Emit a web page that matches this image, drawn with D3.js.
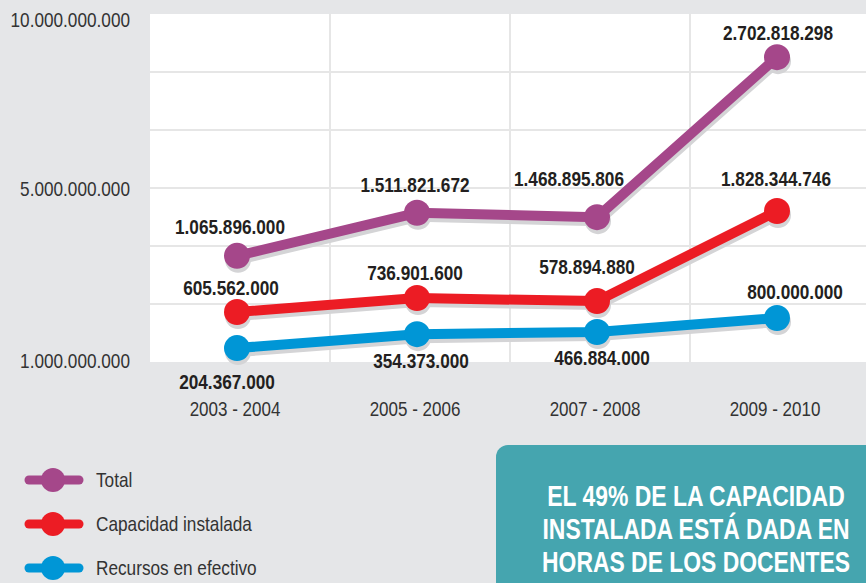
<!DOCTYPE html>
<html>
<head>
<meta charset="utf-8">
<script src="https://cdn.jsdelivr.net/npm/d3@7"></script>
<style>
  html, body { margin: 0; padding: 0; background: #e5e6e8; }
  svg { display: block; }
</style>
</head>
<body>
<div id="chart"></div>
<script>
// categories (school years)
var years = ["2003 - 2004", "2005 - 2006", "2007 - 2008", "2009 - 2010"]
// values printed on the chart
var totalValues = [1065896000, 1511821672, 1468895806, 2702818298]
var capacidadValues = [605562000, 736901600, 578894880, 1828344746]
var recursosValues = [204367000, 354373000, 466884000, 800000000]
// the infographic does not place points to scale, so these are the
// positions (1.000.000.000 / 5.000.000.000 / 10.000.000.000)
var totalPos = [3.44e9, 4.43e9, 4.33e9, 8.76e9]
var capacidadPos = [2.15e9, 2.47e9, 2.40e9, 4.47e9]
var recursosPos = [1.32e9, 1.64e9, 1.69e9, 2.01e9]
// axis ticks
var yTicks = [1e9, 5e9, 1e10]
var seriesNames = ["Total", "Capacidad instalada", "Recursos en efectivo"]
var noteLines = ["EL 49% DE LA CAPACIDAD", "INSTALADA ESTÁ DADA EN", "HORAS DE LOS DOCENTES"]

var colors = ["#a5478a", "#ec1c24", "#0096d6"]

var W = 866, H = 583
var plot = {left: 150, right: 870, top: 14, bottom: 362}
var FONT = "'Liberation Sans', Arial, sans-serif"

var locale = d3.formatLocale({decimal: ",", thousands: ".", grouping: [3], currency: ["$", ""]})
var fmt = locale.format(",.0f")

// no condensed face installed, so squeeze text horizontally
function squeeze(sel, sx){
  sel.each(function(){
    var t = d3.select(this)
    var x0 = +t.attr("x") || 0, y0 = +t.attr("y") || 0
    t.attr("x", 0).attr("y", 0)
      .attr("transform", "translate(" + x0 + "," + y0 + ") scale(" + sx + ",1)")
  })
}

var svg = d3.select("#chart").append("svg")
  .attr("width", W).attr("height", H)

svg.append("rect").attr("width", W).attr("height", H).attr("fill", "#e5e6e8")

// plot background
svg.append("rect")
  .attr("x", plot.left).attr("y", plot.top)
  .attr("width", plot.right - plot.left).attr("height", plot.bottom - plot.top)
  .attr("fill", "#ffffff")

var x = d3.scaleBand().domain(years).range([plot.left, plot.right]).padding(0)
var y = d3.scaleLinear().domain(yTicks).range([plot.bottom, (plot.top + plot.bottom) / 2, plot.top])

// grid
var grid = svg.append("g")
d3.range(1, 6).forEach(function(i){
  var gy = plot.top + i * (plot.bottom - plot.top) / 6
  grid.append("line").attr("x1", plot.left).attr("x2", plot.right)
    .attr("y1", gy).attr("y2", gy)
    .attr("stroke", "#e6e6e6").attr("stroke-width", 2)
})
years.slice(1).forEach(function(c){
  grid.append("line").attr("x1", x(c)).attr("x2", x(c))
    .attr("y1", plot.top).attr("y2", plot.bottom)
    .attr("stroke", "#e6e6e6").attr("stroke-width", 2)
})

// y axis
var yAxis = svg.append("g")
  .attr("transform", "translate(" + (plot.left - 20) + ",0)")
  .call(d3.axisLeft(y).tickValues(yTicks).tickSize(0).tickPadding(0).tickFormat(fmt))
yAxis.select(".domain").remove()
yAxis.selectAll("text")
  .attr("font-family", FONT)
  .attr("font-size", 20).attr("fill", "#333")
  .attr("dy", function(d){ return d === 1e10 ? "0.6em" : d === 1e9 ? "0.25em" : "0.35em" })
  .call(squeeze, 0.86)

// x axis
var xAxis = svg.append("g")
  .attr("transform", "translate(0," + plot.bottom + ")")
  .call(d3.axisBottom(x).tickSize(0).tickPadding(0))
xAxis.select(".domain").remove()
xAxis.selectAll("text")
  .attr("font-family", FONT)
  .attr("font-size", 21).attr("fill", "#333")
  .attr("y", 47).attr("dy", "0.35em").attr("x", -5)
  .call(squeeze, 0.81)

// series
var series = [
  {name: seriesNames[0], pos: totalPos, values: totalValues, color: colors[0],
   off: [[-7, -29], [-2, -28], [-28, -39], [1, -25]]},
  {name: seriesNames[1], pos: capacidadPos, values: capacidadValues, color: colors[1],
   off: [[-6, -24], [-2, -25], [-10, -34], [-1, -32]]},
  {name: seriesNames[2], pos: recursosPos, values: recursosValues, color: colors[2],
   off: [[-10, 34], [4, 26], [5, 26], [18, -26]]}
]

var px = function(i){ return x(years[i]) + x.bandwidth() / 2 - 3 }

var line = d3.line()
  .x(function(d, i){ return px(i) })
  .y(function(d){ return y(d) })

series.forEach(function(s){
  var g = svg.append("g")
  // soft shadow
  g.append("path").datum(s.pos).attr("d", line)
    .attr("transform", "translate(1,4)")
    .attr("fill", "none").attr("stroke", "#d4d4d6").attr("stroke-width", 10)
    .attr("stroke-linejoin", "round")
  g.selectAll(".shadow").data(s.pos).enter().append("circle")
    .attr("cx", function(d, i){ return px(i) + 1 })
    .attr("cy", function(d){ return y(d) + 4 })
    .attr("r", 13).attr("fill", "#d4d4d6")
  g.append("path").datum(s.pos).attr("d", line)
    .attr("fill", "none").attr("stroke", s.color).attr("stroke-width", 10)
    .attr("stroke-linejoin", "round")
  g.selectAll(".dot").data(s.pos).enter().append("circle")
    .attr("cx", function(d, i){ return px(i) })
    .attr("cy", function(d){ return y(d) })
    .attr("r", 13).attr("fill", s.color)
})

// value labels
series.forEach(function(s){
  svg.append("g").selectAll("text").data(s.values).enter().append("text")
    .attr("x", function(d, i){ return px(i) + s.off[i][0] })
    .attr("y", function(d, i){ return y(s.pos[i]) + s.off[i][1] })
    .attr("dy", "0.35em")
    .attr("text-anchor", "middle")
    .attr("font-family", FONT)
    .attr("font-weight", "bold").attr("font-size", 21).attr("fill", "#231f20")
    .text(function(d){ return fmt(d) })
    .call(squeeze, 0.82)
})

// legend
var legend = svg.append("g")
series.forEach(function(s, i){
  var ly = 480 + i * 44
  legend.append("line").attr("x1", 29).attr("x2", 79).attr("y1", ly).attr("y2", ly)
    .attr("stroke", s.color).attr("stroke-width", 9).attr("stroke-linecap", "round")
  legend.append("circle").attr("cx", 53).attr("cy", ly).attr("r", 12).attr("fill", s.color)
  legend.append("text").attr("x", 96).attr("y", ly).attr("dy", "0.35em")
    .attr("font-family", FONT)
    .attr("font-size", 21).attr("fill", "#333")
    .text(s.name)
    .call(squeeze, 0.82)
})

// callout box
svg.append("rect")
  .attr("x", 496).attr("y", 445).attr("width", 400).attr("height", 180)
  .attr("rx", 12).attr("fill", "#45a5af")
var note = svg.append("g").selectAll("text").data(noteLines).enter().append("text")
  .attr("x", 696).attr("y", function(d, i){ return 496 + i * 33 })
  .attr("dy", "0.35em").attr("text-anchor", "middle")
  .attr("font-family", FONT)
  .attr("font-weight", "bold").attr("font-size", 29).attr("fill", "#ffffff")
  .text(function(d){ return d })
var noteLen = d3.max(note.nodes(), function(n){ return n.getComputedTextLength() })
note.call(squeeze, 308 / noteLen)
</script>
</body>
</html>
